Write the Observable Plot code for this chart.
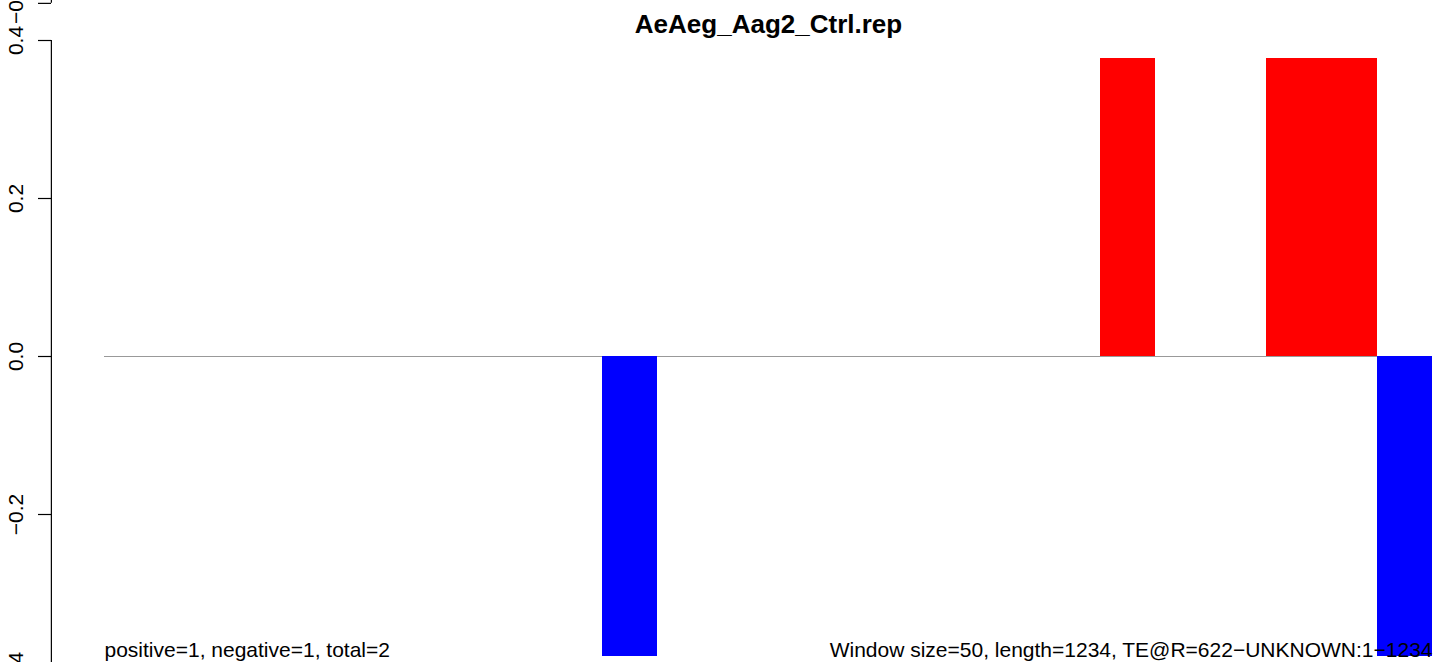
<!DOCTYPE html>
<html>
<head>
<meta charset="utf-8">
<script src="https://cdn.jsdelivr.net/npm/d3@7"></script>
<script src="https://cdn.jsdelivr.net/npm/@observablehq/plot@0.6"></script>
<style>
  html, body { margin: 0; padding: 0; background: #fff; }
  #chart svg { display: block; }
</style>
</head>
<body>
<div id="chart"></div>
<script>
// ---- data ----
const title = "AeAeg_Aag2_Ctrl.rep";
const windowSize = 50;
const seqLength = 1234;
const windowStarts = [0,50,100,150,200,250,300,350,400,450,500,550,600,650,700,750,800,850,900,950,1000,1050,1100,1150];
const windowValues = [0,0,0,0,0,0,0,0,0,-0.38,0,0,0,0,0,0,0,0,0.377,0,0,0.377,0.377,-0.38];
const yTicks = [0.4, 0.2, 0.0, -0.2, -0.4];
const yTickLabels = ["0.4", "0.2", "0.0", "\u22120.2", "\u22120.4"];
// fragment of the neighbouring panel above (its −0.4 tick, cut by the crop)
const neighborTicks = [0.447];
const neighborTickLabels = ["\u22120.4"];
const leftNote = "positive=1, negative=1, total=2";
const rightNote = "Window size=50, length=1234, TE@R=622\u2212UNKNOWN:1\u22121234";

// ---- build ----
const bars = windowStarts.map((s, i) => ({start: s, end: s + windowSize, value: windowValues[i]}));
const xMin = windowStarts[0];
const xMax = windowStarts[windowStarts.length - 1] + windowSize;
const axisX = xMin - 0.04 * (xMax - xMin); // R-style 4% padding: left edge of plot region

const font = "'Liberation Sans', Arial, Helvetica, sans-serif";

const chart = Plot.plot({
  width: 1444,
  height: 662,
  marginLeft: 51,
  marginRight: 0,
  marginTop: 0,
  marginBottom: 0,
  style: {fontFamily: font, background: "#fff", overflow: "visible"},
  x: {domain: [xMin, xMax], range: [104, 1432], axis: null},
  y: {domain: [-0.4, 0.4], range: [672, 40], axis: null},
  marks: [
    // zero line
    Plot.ruleY([0], {x1: xMin, x2: xMax, stroke: "#999", strokeWidth: 1.2}),
    // bars
    Plot.rect(bars, {
      x1: "start", x2: "end", y1: 0, y2: "value",
      fill: d => d.value > 0 ? "#ff0000" : "#0000ff",
      shapeRendering: "crispEdges"
    }),
    // y axis line
    Plot.ruleX([axisX], {y1: yTicks[0], y2: yTicks[yTicks.length - 1], stroke: "#000", strokeWidth: 1.2}),
    Plot.ruleX([axisX], {y1: neighborTicks[0], y2: 0.5, stroke: "#000", strokeWidth: 1.2}),
    // y ticks
    Plot.axisY(yTicks.concat(neighborTicks), {anchor: "left", tickSize: 13, fill: "none", stroke: "#000", strokeWidth: 1.2, label: null}),
    // y tick labels (rotated, like R)
    Plot.text(yTicks.concat(neighborTicks), {
      y: d => d,
      text: (d, i) => i < yTicks.length ? yTickLabels[i] : neighborTickLabels[i - yTicks.length],
      frameAnchor: "left", dx: -29, rotate: -90,
      textAnchor: "middle", lineAnchor: "bottom",
      fontSize: 21, fill: "#000"
    }),
    // title
    Plot.text([title], {
      x: (xMin + xMax) / 2, frameAnchor: "top", dy: 32,
      text: d => d, lineAnchor: "bottom", textAnchor: "middle",
      fontSize: 26, fontWeight: "bold", fill: "#000"
    }),
    // bottom notes
    Plot.text([leftNote], {
      x: xMin, frameAnchor: "bottom", dy: -6,
      text: d => d, lineAnchor: "bottom", textAnchor: "start",
      fontSize: 21, fill: "#000"
    }),
    Plot.text([rightNote], {
      x: xMax, frameAnchor: "bottom", dy: -6,
      text: d => d, lineAnchor: "bottom", textAnchor: "end",
      fontSize: 21, fill: "#000"
    })
  ]
});
document.getElementById("chart").appendChild(chart);
</script>
</body>
</html>
